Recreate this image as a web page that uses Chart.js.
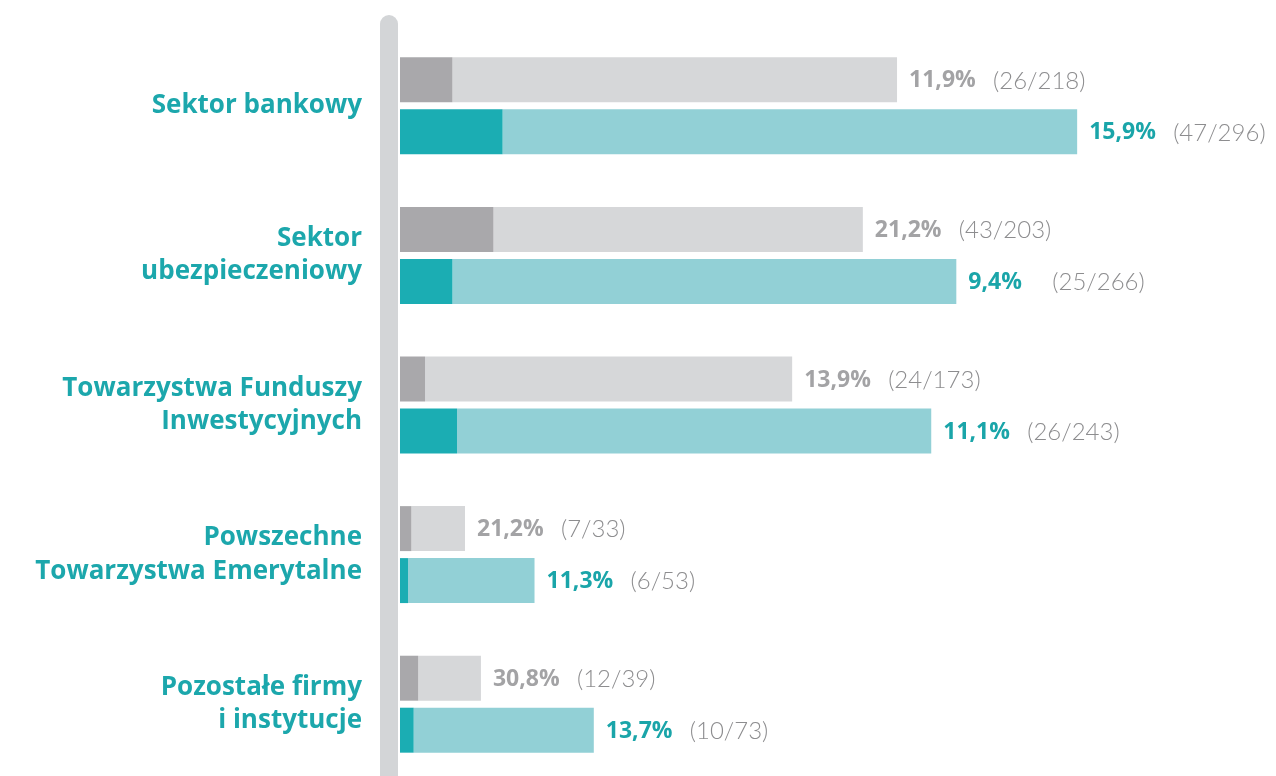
<html>
<head>
  <meta charset="utf-8">
  <title>Sektory</title>
  <script src="https://cdn.jsdelivr.net/npm/chart.js"></script>
  <style>
    body { margin: 0; overflow: hidden; background: #fff; }
    #wrap { width: 1276px; height: 780px; }
  </style>
</head>
<body>
  <div id="wrap"><canvas id="myChart" width="1276" height="780"></canvas></div>
  <script>
    // kategorie
    const categories = [
      'Sektor bankowy',
      ['Sektor', 'ubezpieczeniowy'],
      ['Towarzystwa Funduszy', 'Inwestycyjnych'],
      ['Powszechne', 'Towarzystwa Emerytalne'],
      ['Pozostałe firmy', 'i instytucje']
    ];
    // długości słupków
    const greyPart = [23, 41, 11, 5, 8];
    const greyBar = [218, 203, 172, 28.5, 35.5];
    const tealPart = [45, 23, 25, 3.5, 6];
    const tealBar = [297, 244, 233, 59, 85];
    // etykiety
    const greyPct = ['11,9%', '21,2%', '13,9%', '21,2%', '30,8%'];
    const greyCount = ['(26/218)', '(43/203)', '(24/173)', '(7/33)', '(12/39)'];
    const tealPct = ['15,9%', '9,4%', '11,1%', '11,3%', '13,7%'];
    const tealCount = ['(47/296)', '(25/266)', '(26/243)', '(6/53)', '(10/73)'];

    const rest = (bar, part) => bar.map((v, i) => v - part[i]);

    // szara oś z zaokrągloną górą + opisy przy słupkach
    const extras = {
      id: 'extras',
      beforeDatasetsDraw(chart) {
        const ctx = chart.ctx;
        ctx.save();
        ctx.fillStyle = '#d3d5d7';
        ctx.beginPath();
        ctx.roundRect(380, 15, 18, chart.height, [9, 9, 0, 0]);
        ctx.fill();
        ctx.restore();
      },
      afterDatasetsDraw(chart) {
        const ctx = chart.ctx;
        ctx.save();
        ctx.textBaseline = 'middle';
        ctx.textAlign = 'left';
        const rows = [
          { meta: chart.getDatasetMeta(1), pct: greyPct, cnt: greyCount, color: '#a3a3a5' },
          { meta: chart.getDatasetMeta(3), pct: tealPct, cnt: tealCount, color: '#1aa5a9' }
        ];
        rows.forEach(r => {
          r.meta.data.forEach((bar, i) => {
            const x = bar.x + 12;
            ctx.font = 'bold 23px "Open Sans"';
            ctx.fillStyle = r.color;
            ctx.fillText(r.pct[i], x, bar.y + 1);
            ctx.font = '300 24px Lato';
            ctx.fillStyle = '#8d8d8f';
            ctx.fillText(r.cnt[i], x + 84, bar.y + 1);
          });
        });
        ctx.restore();
      }
    };

    const ctx = document.getElementById('myChart').getContext('2d');
    const myChart = new Chart(ctx, {
      type: 'bar',
      data: {
        labels: categories,
        datasets: [
          { data: greyPart, backgroundColor: '#a9a8ab', stack: 'g' },
          { data: rest(greyBar, greyPart), backgroundColor: '#d6d7d9', stack: 'g' },
          { data: tealPart, backgroundColor: '#1badb3', stack: 't' },
          { data: rest(tealBar, tealPart), backgroundColor: '#92d0d6', stack: 't' }
        ]
      },
      options: {
        indexAxis: 'y',
        responsive: false,
        animation: false,
        categoryPercentage: 0.695,
        barPercentage: 0.865,
        layout: { padding: { left: 0, right: 78, top: 31, bottom: 1 } },
        plugins: { legend: { display: false }, tooltip: { enabled: false } },
        scales: {
          x: { display: false, stacked: true, min: 0, max: 350 },
          y: {
            grid: { display: false, drawTicks: false },
            border: { display: false },
            ticks: {
              padding: 38,
              color: '#1ca7ac',
              font: { family: '"Open Sans"', size: 26, weight: 'bold', lineHeight: 1.27 }
            },
            afterFit(scale) {
              scale.width = 400;
              scale.paddingTop = 0;
              scale.paddingBottom = 0;
            }
          }
        }
      },
      plugins: [extras]
    });
  </script>
</body>
</html>
